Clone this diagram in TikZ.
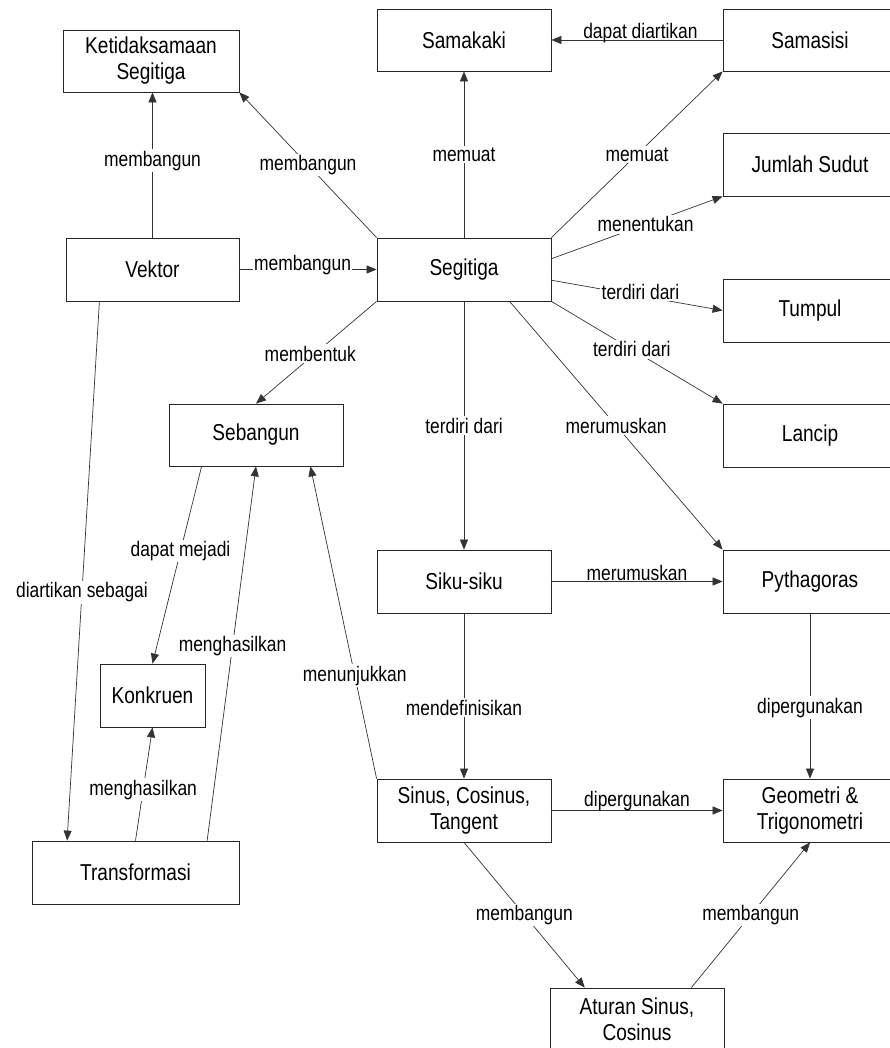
\documentclass[tikz,border=0pt]{standalone}
\usepackage{fontspec}
\setmainfont{Liberation Sans}[FakeStretch=0.83]
\usetikzlibrary{arrows.meta}
\begin{document}
\begin{tikzpicture}[x=1pt,y=-1pt,
  box/.style={draw=black!85, line width=0.8pt, minimum width=174pt, minimum height=63pt,
    inner sep=0pt, align=center, font=\fontsize{23}{26}\selectfont},
  con/.style={draw=black!80, line width=0.7pt, -{Triangle[length=10pt,width=8pt]}},
  lbl/.style={fill=white, inner sep=1.5pt, font=\fontsize{21}{23}\selectfont},
  hlbl/.style={inner sep=1pt, font=\fontsize{21}{23}\selectfont, yshift=9pt}]
\useasboundingbox (0,0) rectangle (890,1048);
\fill[white] (0,0) rectangle (890,1048);

\node[box, minimum width=176pt, minimum height=62pt] (ket) at (151,61) {Ketidaksamaan\\Segitiga};
\node[box, minimum width=173pt] (vek) at (152.5,269.5) {Vektor};
\node[box, minimum height=62pt] (samakaki) at (464,40) {Samakaki};
\node[box, minimum height=62pt] (samasisi) at (810,40) {Samasisi};
\node[box] (jumlah) at (810,164.5) {Jumlah Sudut};
\node[box] (seg) at (464,269.5) {Segitiga};
\node[box] (tumpul) at (810,310.5) {Tumpul};
\node[box] (lancip) at (810,435.5) {Lancip};
\node[box, minimum height=62pt] (seb) at (256,435) {Sebangun};
\node[box, minimum width=105pt] (konk) at (152.5,695.5) {Konkruen};
\node[box, minimum width=207pt] (trans) at (135.5,872.5) {Transformasi};
\node[box] (siku) at (464,581.5) {Siku-siku};
\node[box] (pyth) at (810,581.5) {Pythagoras};
\node[box] (sinus) at (464,810.5) {Sinus, Cosinus,\\Tangent};
\node[box] (geo) at (810,810.5) {Geometri \&\\Trigonometri};
\node[box, minimum height=62pt] (atr) at (637,1019) {Aturan Sinus,\\Cosinus};

\draw[con] (vek.north) -- node[lbl,pos=0.53]{membangun} (vek.north |- ket.south);
\draw[con] (seg.north west) -- node[lbl,pos=0.5]{membangun} (ket.south east);
\draw[con] (vek.east) -- node[lbl,pos=0.46,yshift=4pt]{membangun} (seg.west);
\draw[con] (seg.north) -- node[lbl,pos=0.5]{memuat} (samakaki.south);
\draw[con] (seg.north east) -- node[lbl,pos=0.5]{memuat} (samasisi.south west);
\draw[con] (samasisi.west) -- node[hlbl,pos=0.48,yshift=-2pt]{dapat diartikan} (samakaki.east);
\draw[con] (seg.7.5) -- node[lbl,pos=0.55]{menentukan} (jumlah.south west);
\draw[con] (seg.-7) -- node[lbl,pos=0.52,yshift=4pt]{terdiri dari} (tumpul.west);
\draw[con] (seg.south east) -- node[lbl,pos=0.47]{terdiri dari} (lancip.north west);
\draw[con] (seg.south west) -- node[lbl,pos=0.55,yshift=4pt]{membentuk} (seb.north);
\draw[con] (seg.south) -- node[lbl,pos=0.5]{terdiri dari} (siku.north);
\draw[con] (seg.-35.6) -- node[lbl,pos=0.5]{merumuskan} (pyth.north west);
\draw[con] (siku.east) -- node[hlbl,pos=0.5]{merumuskan} (pyth.west);
\draw[con] (siku.south) -- node[lbl,pos=0.57]{mendefinisikan} (sinus.north);
\draw[con] (pyth.south) -- node[lbl,pos=0.57]{dipergunakan} (geo.north);
\draw[con] (sinus.east) -- node[hlbl,pos=0.5]{dipergunakan} (geo.west);
\draw[con] (sinus.south) -- node[lbl,pos=0.5]{membangun} (atr.149);
\draw[con] (atr.30.8) -- node[lbl,pos=0.5]{membangun} (geo.south);
\draw[con] (seb.210.4) -- node[lbl,pos=0.43]{dapat mejadi} (konk.north);
\draw[con] (trans.north) -- node[lbl,pos=0.45]{menghasilkan} (konk.south);
\draw[con] (trans.24.7) -- node[lbl,pos=0.52]{menghasilkan} (seb.south);
\draw[con] (sinus.north west) -- node[lbl,pos=0.33]{menunjukkan} (seb.-30.8);
\draw[con] (vek.211) -- node[lbl,pos=0.54]{diartikan sebagai} (trans.155.3);
\end{tikzpicture}
\end{document}
